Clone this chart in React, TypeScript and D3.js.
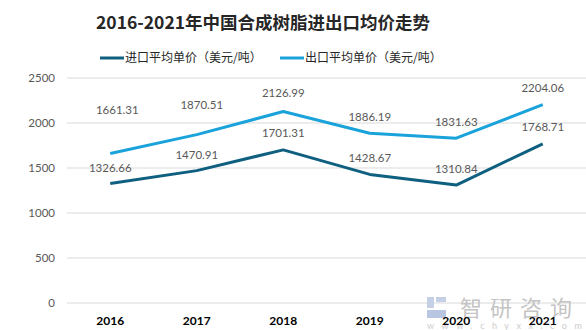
import React from "react";
import * as d3 from "d3";

const years = ["2016", "2017", "2018", "2019", "2020", "2021"];
const importPrice = [1326.66, 1470.91, 1701.31, 1428.67, 1310.84, 1768.71];
const exportPrice = [1661.31, 1870.51, 2126.99, 1886.19, 1831.63, 2204.06];
const yTicks = [0, 500, 1000, 1500, 2000, 2500];
const seriesNames = ["进口平均单价（美元/吨）", "出口平均单价（美元/吨）"];
const title = "2016-2021年中国合成树脂进出口均价走势";

// label placement tweaks (style, not data)
const importLabelDy = [-16, -16, -17, -16, -16, -17];
const exportLabelDy = [-43, -30, -19, -16, -16, -17];
const exportLabelDx = [7, 5, 0, 0, 0, 0];

const W = 586, H = 330;
const plotLeft = 67, plotRight = 586, plotTop = 78, plotBottom = 303;
const importColor = "#0f5f80";
const exportColor = "#1aa3db";
const cjk = "'Noto Sans CJK SC', sans-serif";
const num = "Lato, 'Noto Sans', sans-serif";

export default function App() {
  const x = d3.scaleBand<string>().domain(years).range([plotLeft, plotRight]);
  const cx = (d: string) => (x(d) as number) + x.bandwidth() / 2;
  const y = d3.scaleLinear().domain([0, 2500]).range([plotBottom, plotTop]);
  const line = d3
    .line<number>()
    .x((_, i) => cx(years[i]))
    .y((v) => y(v));

  return (
    <svg width={W} height={H} style={{ position: "absolute", left: 0, top: 0, background: "#fff" }}>
      <text x={96} y={29} fontFamily={cjk} fontWeight="bold" fontSize={17.5} fill="#262626">
        {title}
      </text>
      {/* legend */}
      <line x1={100} x2={124} y1={58} y2={58} stroke={importColor} strokeWidth={3} />
      <text x={125} y={62} fontFamily={cjk} fontSize={12} fill="#262626">{seriesNames[0]}</text>
      <line x1={280} x2={304} y1={58} y2={58} stroke={exportColor} strokeWidth={3} />
      <text x={305} y={62} fontFamily={cjk} fontSize={12} fill="#262626">{seriesNames[1]}</text>

      {/* grid */}
      {yTicks.map((t) => (
        <g key={t}>
          <line x1={plotLeft} x2={plotRight} y1={y(t)} y2={y(t)} stroke="#d9d9d9" strokeWidth={1} />
          <text x={55} y={y(t) + 4} textAnchor="end" fontFamily={num} fontSize={11.5} fill="#595959">{t}</text>
        </g>
      ))}

      {/* watermark */}
      <g>
        <rect x={427} y={297} width={7} height={11} fill="#c5d0e6" />
        <rect x={436} y={297} width={10} height={5} fill="#c5d0e6" />
        <rect x={427} y={310} width={19} height={8} fill="#b8c6e2" />
        <text x={460} y={316} fontFamily={cjk} fontSize={22} fill="#c4c4c4" letterSpacing={8}>智研咨询</text>
        <text x={427} y={329} fontFamily={num} fontSize={9} fill="#cccccc" letterSpacing={7.5}>www.chyxx.com</text>
      </g>

      {years.map((yr) => (
        <text key={yr} x={cx(yr)} y={325} textAnchor="middle" fontFamily={num} fontWeight="bold" fontSize={12} fill="#000">{yr}</text>
      ))}

      <path d={line(importPrice) || ""} fill="none" stroke={importColor} strokeWidth={3} strokeLinejoin="round" />
      <path d={line(exportPrice) || ""} fill="none" stroke={exportColor} strokeWidth={3} strokeLinejoin="round" />

      {importPrice.map((v, i) => (
        <text key={"i" + i} x={cx(years[i])} y={y(v) + importLabelDy[i] + 4} textAnchor="middle" fontFamily={num} fontSize={11.5} fill="#595959">{v.toFixed(2)}</text>
      ))}
      {exportPrice.map((v, i) => (
        <text key={"e" + i} x={cx(years[i]) + exportLabelDx[i]} y={y(v) + exportLabelDy[i] + 4} textAnchor="middle" fontFamily={num} fontSize={11.5} fill="#595959">{v.toFixed(2)}</text>
      ))}
    </svg>
  );
}
